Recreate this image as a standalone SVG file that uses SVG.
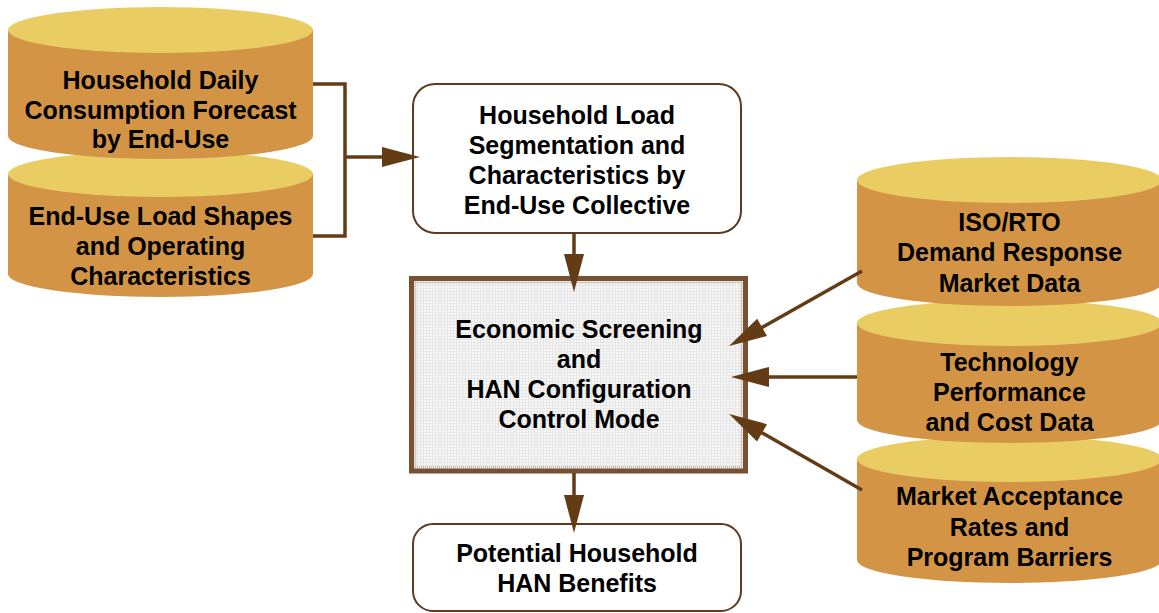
<svg xmlns="http://www.w3.org/2000/svg" width="1159" height="613" viewBox="0 0 1159 613">
<style>
.top{fill:#E9CD63}
.body{fill:#D39545}
.t{font-family:"Liberation Sans",Arial,Helvetica,sans-serif;font-weight:bold;font-size:25px;fill:#000;text-anchor:middle}
.box{fill:#fff;stroke:#5b3c22;stroke-width:2}
.con{fill:none;stroke:#633c16;stroke-width:3.5}
</style>
<defs>
<marker id="ah" markerUnits="userSpaceOnUse" markerWidth="40" markerHeight="22" refX="18" refY="10" orient="auto" viewBox="0 0 40 20" overflow="visible">
<path d="M0,0 L38,10 L0,20 Z" fill="#633c16"/>
</marker>
<pattern id="grid" width="3" height="3" patternUnits="userSpaceOnUse">
<rect width="3" height="3" fill="#f8f8f8"/>
<path d="M0,0.5 H3 M0.5,0 V3" stroke="#e6e6e6" stroke-width="1"/>
</pattern>
</defs>

<g id="cyl-left-2">
<path class="body" d="M8,174 L8,274 A152.5,23 0 0 0 313,274 L313,174 Z"/>
<ellipse class="top" cx="160.5" cy="174" rx="152.5" ry="23"/>
<text class="t" x="160.5" y="225">End-Use Load Shapes</text>
<text class="t" x="160.5" y="255">and Operating</text>
<text class="t" x="160.5" y="285">Characteristics</text>
</g>
<g id="cyl-left-1">
<path class="body" d="M8,30 L8,136 A152.5,23 0 0 0 313,136 L313,30 Z"/>
<ellipse class="top" cx="160.5" cy="30" rx="152.5" ry="23"/>
<text class="t" x="160.5" y="89">Household Daily</text>
<text class="t" x="160.5" y="119">Consumption Forecast</text>
<text class="t" x="160.5" y="148">by End-Use</text>
</g>

<g id="cyl-right-3">
<path class="body" d="M857,459 L857,560 A152.5,23 0 0 0 1162,560 L1162,459 Z"/>
<ellipse class="top" cx="1009.5" cy="459" rx="152.5" ry="23"/>
<text class="t" x="1009.5" y="505">Market Acceptance</text>
<text class="t" x="1009.5" y="536">Rates and</text>
<text class="t" x="1009.5" y="566">Program Barriers</text>
</g>
<g id="cyl-right-2">
<path class="body" d="M857,323 L857,420 A152.5,23 0 0 0 1162,420 L1162,323 Z"/>
<ellipse class="top" cx="1009.5" cy="323" rx="152.5" ry="23"/>
<text class="t" x="1009.5" y="371">Technology</text>
<text class="t" x="1009.5" y="401">Performance</text>
<text class="t" x="1009.5" y="431">and Cost Data</text>
</g>
<g id="cyl-right-1">
<path class="body" d="M857,180 L857,283 A152.5,23 0 0 0 1162,283 L1162,180 Z"/>
<ellipse class="top" cx="1009.5" cy="180" rx="152.5" ry="23"/>
<text class="t" x="1009.5" y="231">ISO/RTO</text>
<text class="t" x="1009.5" y="261">Demand Response</text>
<text class="t" x="1009.5" y="292">Market Data</text>
</g>

<g id="box-segmentation">
<rect class="box" x="413" y="84" width="328" height="149" rx="22"/>
<text class="t" x="577" y="124">Household Load</text>
<text class="t" x="577" y="154">Segmentation and</text>
<text class="t" x="577" y="184">Characteristics by</text>
<text class="t" x="577" y="214">End-Use Collective</text>
</g>

<g id="box-screening">
<rect x="411.5" y="278.5" width="334" height="192.5" fill="url(#grid)" stroke="#7a5130" stroke-width="5"/>
<rect x="415.5" y="282.5" width="326" height="184.5" fill="none" stroke="#b8a690" stroke-width="1.5" stroke-dasharray="1 1"/>
<text class="t" x="579" y="338">Economic Screening</text>
<text class="t" x="579" y="368">and</text>
<text class="t" x="579" y="398">HAN Configuration</text>
<text class="t" x="579" y="428">Control Mode</text>
</g>

<g id="box-benefits">
<rect class="box" x="413" y="524" width="328" height="87" rx="20"/>
<text class="t" x="577" y="562">Potential Household</text>
<text class="t" x="577" y="592">HAN Benefits</text>
</g>

<g id="connectors">
<path class="con" d="M313,84 H345 V236 H313"/>
<path class="con" d="M345,157 H400" marker-end="url(#ah)"/>
<path class="con" d="M574,233 V272" marker-end="url(#ah)"/>
<path class="con" d="M574,473 V513" marker-end="url(#ah)"/>
<path class="con" d="M862,271 L746.4,336.2" marker-end="url(#ah)"/>
<path class="con" d="M857,377 H751" marker-end="url(#ah)"/>
<path class="con" d="M862,490 L746.4,423.9" marker-end="url(#ah)"/>
</g>
</svg>
